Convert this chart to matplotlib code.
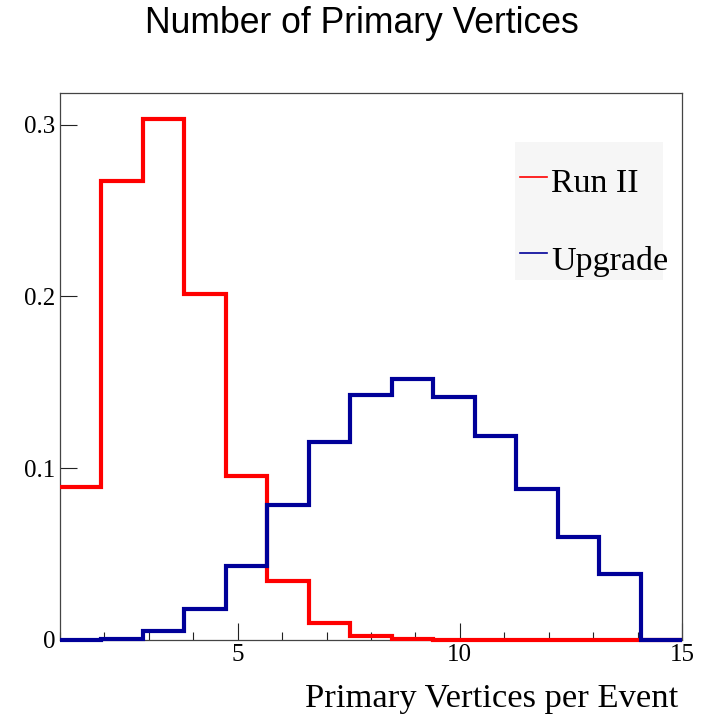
import numpy as np
import matplotlib
matplotlib.use("Agg")
import matplotlib.pyplot as plt
from matplotlib.patches import Rectangle
from matplotlib.lines import Line2D
from matplotlib.ticker import MultipleLocator, FixedLocator

# Histogram binning: 15 bins spanning 1..15
bin_edges = np.linspace(1, 15, 16)

# Normalised number of primary vertices per event
run2_values = [0.0892, 0.2672, 0.3035, 0.2012, 0.0955, 0.0343, 0.0101,
               0.0022, 0.0006, 0.0002, 0.0001, 0.0001, 0.0, 0.0, 0.0]
upgrade_values = [0.0002, 0.0007, 0.0054, 0.0182, 0.0432, 0.0788, 0.1153,
                  0.1424, 0.1520, 0.1414, 0.1186, 0.0881, 0.0601, 0.0382, 0.0]

series_names = ["Run II", "Upgrade"]
series_colors = ["#ff0000", "#000099"]

title_text = "Number of Primary Vertices"
xlabel_text = "Primary Vertices per Event"
x_major_ticks = [5, 10, 15]
y_major_ticks = [0, 0.1, 0.2, 0.3]
y_tick_labels = ["0", "0.1", "0.2", "0.3"]

serif = ["Liberation Serif", "DejaVu Serif"]
sans = ["Liberation Sans", "DejaVu Sans"]

fig = plt.figure(figsize=(7.05, 7.19), dpi=100)
ax = fig.add_axes([60 / 705, 1 - 640 / 719, 622 / 705, 547.5 / 719])

for vals, col in zip([run2_values, upgrade_values], series_colors):
    ax.stairs(vals, bin_edges, baseline=None, color=col, linewidth=3.0,
              clip_on=False, zorder=3)

ax.set_xlim(1, 15)
ax.set_ylim(0, 0.3187)

# frame
for sp in ax.spines.values():
    sp.set_linewidth(0.9)
    sp.set_color("#444444")

ax.xaxis.set_major_locator(FixedLocator(x_major_ticks))
ax.xaxis.set_minor_locator(MultipleLocator(1))
ax.yaxis.set_major_locator(FixedLocator(y_major_ticks))
ax.set_yticklabels(y_tick_labels)
ax.tick_params(axis="both", which="both", direction="in", top=False,
               right=False, color="#222222", width=0.8)
ax.tick_params(axis="x", which="major", length=12.2, pad=3)
ax.tick_params(axis="x", which="minor", length=5.8)
ax.tick_params(axis="y", which="major", length=12.2, pad=3.5)
for lab in ax.get_xticklabels() + ax.get_yticklabels():
    lab.set_fontfamily(serif)
    lab.set_fontsize(18)

ax.set_xlabel(xlabel_text, fontfamily=serif, fontsize=24.8)
ax.xaxis.label.set_ha("right")
ax.xaxis.label.set_va("baseline")
ax.xaxis.set_label_coords((678 - 60) / 622, (640 - 707.5) / 547.5)

fig.text(361.5 / 705, 1 - 33 / 719, title_text, ha="center", va="baseline",
         fontfamily=sans, fontsize=25.6)

# legend box
ax.add_patch(Rectangle((0.7315, 0.6575), 0.2375, 0.252, transform=ax.transAxes,
                       facecolor="#f6f6f6", edgecolor="none", zorder=2))
leg_line_y = [0.8462, 0.7063]
leg_text_y = [0.8188, 0.6758]
for name, col, ly, ty in zip(series_names, series_colors, leg_line_y, leg_text_y):
    ax.add_line(Line2D([0.7395, 0.783], [ly, ly], transform=ax.transAxes,
                       color=col, linewidth=1.2, zorder=4))
    ax.text(0.789, ty, name, transform=ax.transAxes, ha="left", va="baseline",
            fontfamily=serif, fontsize=24.5, zorder=4)

fig.savefig("out.png", dpi=100)
